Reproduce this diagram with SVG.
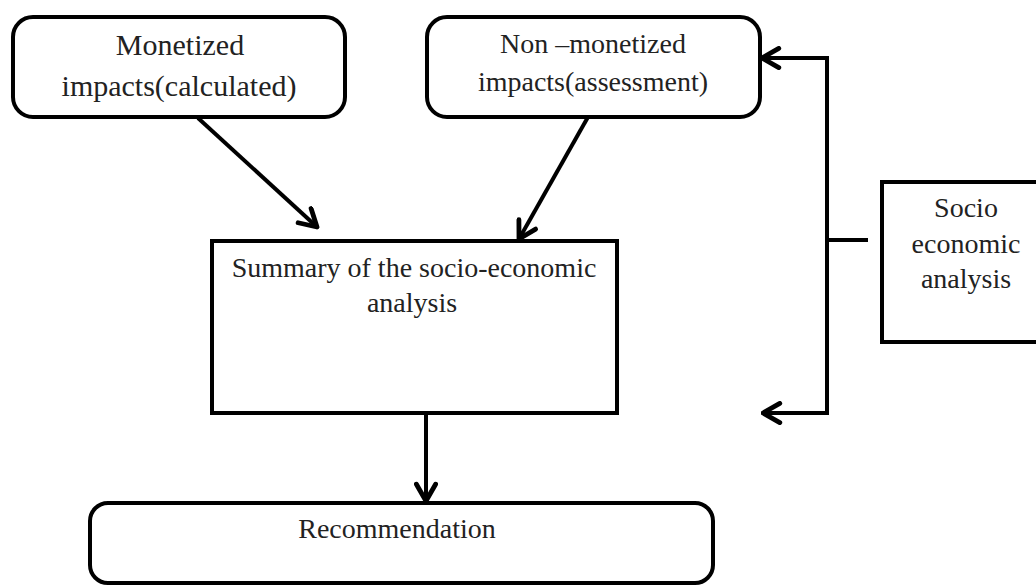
<svg xmlns="http://www.w3.org/2000/svg" width="1036" height="587" viewBox="0 0 1036 587">
<style>
.box{fill:#fff;stroke:#000;stroke-width:4}
.t{font-family:"Liberation Serif","Times New Roman",serif;font-size:28px;fill:#222;text-anchor:middle}
.big{font-size:30px}
.c{fill:none;stroke:#000;stroke-width:4}
</style>
<defs>
<marker id="ah" markerUnits="userSpaceOnUse" viewBox="0 0 20 20" refX="18" refY="10" markerWidth="24" markerHeight="24" orient="auto-start-reverse">
<path d="M4,2 L18,10 L4,18" fill="none" stroke="#000" stroke-width="4" stroke-linecap="round" stroke-linejoin="round"/>
</marker>
</defs>
<rect width="1036" height="587" fill="#fff"/>
<g id="connectors">
<line class="c" x1="198" y1="118" x2="317" y2="227" marker-end="url(#ah)"/>
<line class="c" x1="588" y1="117" x2="519" y2="239" marker-end="url(#ah)"/>
<line class="c" x1="426" y1="413" x2="426" y2="501" marker-end="url(#ah)"/>
<path class="c" d="M762,58 H827 V413 H763" marker-start="url(#ah)" marker-end="url(#ah)"/>
<line class="c" x1="827" y1="240" x2="868" y2="240"/>
</g>
<g id="monetized">
<rect class="box" x="13" y="17" width="332" height="100" rx="20"/>
<text class="t big" x="180" y="55">Monetized</text>
<text class="t big" x="179" y="96">impacts(calculated)</text>
</g>
<g id="nonmonetized">
<rect class="box" x="427" y="17" width="333" height="100" rx="20"/>
<text class="t" x="593" y="53">Non –monetized</text>
<text class="t" x="593" y="91">impacts(assessment)</text>
</g>
<g id="socio">
<rect class="box" x="882" y="182" width="170" height="160"/>
<text class="t" x="966" y="217">Socio</text>
<text class="t" x="966" y="253">economic</text>
<text class="t" x="966" y="288">analysis</text>
</g>
<g id="summary">
<rect class="box" x="212" y="241" width="405" height="172"/>
<text class="t" x="414" y="277">Summary of the socio-economic</text>
<text class="t" x="412" y="312">analysis</text>
</g>
<g id="recommendation">
<rect class="box" x="90" y="503" width="623" height="80" rx="18"/>
<text class="t" x="397" y="538">Recommendation</text>
</g>
</svg>
